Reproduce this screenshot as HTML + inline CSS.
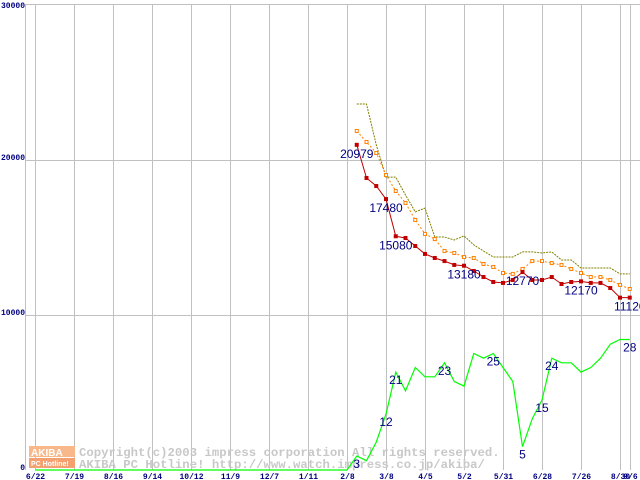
<!DOCTYPE html>
<html><head><meta charset="utf-8"><style>
html,body{margin:0;padding:0;background:#fff;}
svg{display:block;}
.tk{font-family:"Liberation Mono",monospace;font-size:8px;font-weight:bold;fill:#000080;}
.lb{font-family:"Liberation Sans",sans-serif;font-size:12px;fill:#000080;}
.wm{font-family:"Liberation Mono",monospace;font-size:12.3px;font-weight:bold;fill:#c8c8c8;}
</style></head><body>
<svg id="chart" width="640" height="480" viewBox="0 0 640 480">
<g id="grid"></g>
<g id="wmk">
<rect x="29" y="446" width="46" height="11" fill="#f8b88a"/>
<rect x="29" y="458" width="46" height="10" fill="#f4a070"/>
<text x="31" y="456" style="font-family:'Liberation Sans',sans-serif;font-size:10px;font-weight:bold;fill:#fff;">AKIBA</text>
<text x="31" y="466" style="font-family:'Liberation Sans',sans-serif;font-size:7px;font-weight:bold;fill:#fff;">PC Hotline!</text>
<text class="wm" x="79" y="456">Copyright(c)2003 impress corporation All rights reserved.</text>
<text class="wm" x="79" y="468">AKIBA PC Hotline!  http://www.watch.impress.co.jp/akiba/</text>
</g>
<g id="series"></g>
</svg>
<script>
const xLabels=["6/22","7/19","8/16","9/14","10/12","11/9","12/7","1/11","2/8","3/8","4/5","5/2","5/31","6/28","7/26","8/30","9/6"];
const xLabelWeeks=[0,4,8,12,16,20,24,28,32,36,40,44,48,52,56,60,61];
const yTicks=[0,10000,20000,30000];
const priceStart=33;
const minPrice=[20979,18840,18320,17480,15080,14970,14450,13940,13680,13480,13230,13180,12840,12450,12130,12070,12260,12770,12260,12260,12450,12000,12130,12170,12070,12070,11740,11120,11120];
const avgPrice=[21870,21160,20450,19030,18000,17230,16130,15230,14900,14130,14000,13740,13680,13290,13100,12710,12650,12970,13480,13480,13350,13230,12970,12710,12450,12450,12260,11940,11680];
const maxPrice=[23610,23610,20970,18900,18900,17740,16650,16900,15030,15030,14840,15100,14520,14130,13740,13740,13740,14070,14070,14000,14070,13550,13550,13030,13030,13030,13030,12650,12650];
const shopCount=[0,3,2,6,12,21,17,22,20,20,23,19,18,25,24,25,22,19,5,11,15,24,23,23,21,22,24,27,28,28];
const priceLabels=[[0,"20979"],[3,"17480"],[4,"15080"],[11,"13180"],[17,"12770"],[23,"12170"],[28,"11120"]];
const countLabels=[[1,"3"],[4,"12"],[5,"21"],[10,"23"],[15,"25"],[18,"5"],[20,"15"],[21,"24"],[29,"28"]];
const countStart=32;

const NS="http://www.w3.org/2000/svg";
const xw=w=>35+w*9.75;
const yp=v=>470-v*0.0155;
const yc=c=>470-c*4.66;
function mk(tag,attrs,parent){const e=document.createElementNS(NS,tag);for(const k in attrs)e.setAttribute(k,attrs[k]);parent.appendChild(e);return e;}
const grid=document.getElementById('grid'),ser=document.getElementById('series');
let e=mk('line',{x1:25,y1:4.5,x2:640,y2:4.5,stroke:'#c0c0c0'},grid);


e=mk('line',{x1:25.5,y1:4,x2:25.5,y2:470,stroke:'#c0c0c0'},grid);


yTicks.forEach(v=>{
  const y=Math.round(yp(v));
  if(v>0&&v<30000){const l=mk('line',{x1:25,y1:y+0.5,x2:640,y2:y+0.5,stroke:'#c0c0c0'},grid);
  
  }
  const t=mk('text',{x:25,y:v===0?470:(v===30000?8:y),'text-anchor':'end',class:'tk'},grid);t.textContent=String(v);
  
  
});
xLabelWeeks.forEach((w,i)=>{
  const x=Math.round(xw(w))+0.5;
  const l=mk('line',{x1:x,y1:4,x2:x,y2:470,stroke:'#c0c0c0'},grid);
  
  
  const t=mk('text',{x:x,y:479,'text-anchor':'middle',class:'tk'},grid);t.textContent=xLabels[i];
  
  
});
function pts(arr,start,yf){return arr.map((v,i)=>xw(start+i).toFixed(1)+','+yf(v).toFixed(1)).join(' ');}
const g=mk('polyline',{points:xw(0)+','+yc(0)+' '+pts(shopCount,countStart,yc),fill:'none',stroke:'#00ff00','stroke-width':1.2},ser);


const mx=mk('polyline',{points:pts(maxPrice,priceStart,yp),fill:'none',stroke:'#808000','stroke-width':1,'stroke-dasharray':'2,1'},ser);


const av=mk('polyline',{points:pts(avgPrice,priceStart,yp),fill:'none',stroke:'#ff8000','stroke-width':1,'stroke-dasharray':'2,2'},ser);


avgPrice.forEach((v,i)=>{const r=mk('rect',{x:xw(priceStart+i)-1.5,y:yp(v)-1.5,width:3,height:3,fill:'#fff',stroke:'#ff8000','stroke-width':1},ser);
  
  });
const mn=mk('polyline',{points:pts(minPrice,priceStart,yp),fill:'none',stroke:'#c00000','stroke-width':1},ser);


minPrice.forEach((v,i)=>{const r=mk('rect',{x:xw(priceStart+i)-2,y:yp(v)-2,width:4,height:4,fill:'#c00000'},ser);
  
  });
priceLabels.forEach(([i,s])=>{const t=mk('text',{x:xw(priceStart+i),y:yp(minPrice[i])+13,'text-anchor':'middle',class:'lb'},ser);t.textContent=s;
  
  });
countLabels.forEach(([i,s])=>{const t=mk('text',{x:xw(countStart+i),y:yc(shopCount[i])+12,'text-anchor':'middle',class:'lb'},ser);t.textContent=s;
  
  });
</script>
</body></html>
